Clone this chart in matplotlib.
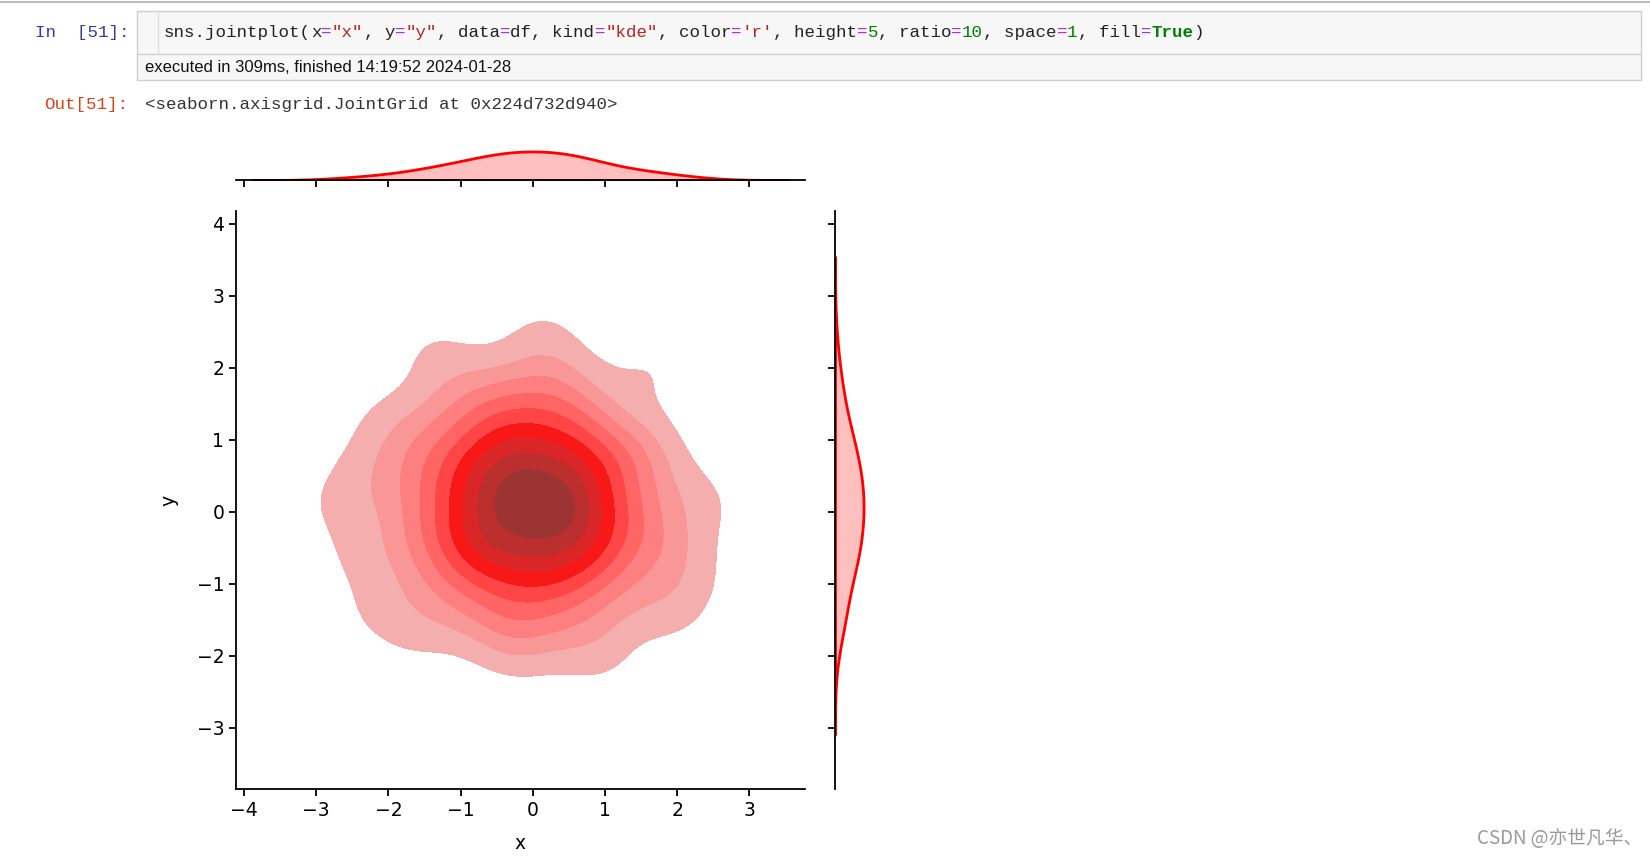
import numpy as np
import pandas as pd
import matplotlib
matplotlib.use("Agg")
import matplotlib.pyplot as plt
import seaborn as sns
from matplotlib.lines import Line2D
from matplotlib.patches import Rectangle

# sample points, estimated from the density plot (inner points first, outliers last)
xs = [-0.05, 0.3, -0.4, -0.1, -0.3, 0.3, -0.45, 0.4, -0.25, 0.05, 0.45, -0.3, 0.15, -0.15,
      0.7, 0.6, 0.35, -0.05, -0.45, -0.75, -0.85, -0.7, -0.45, -0.05, 0.4, 0.7,
      0.9, 0.65, 0.2, -0.3, -0.8, -0.95, -0.9, -0.6, -0.2, 0.25, 0.8,
      0.5, 0.45, 0.0, -0.55, -0.6, -0.2, 0.3, 0.55, -0.4, 0.15,
      1.1, 0.95, 0.8, 0.4, 0.0, -0.4, -0.75, -1.0, -1.15, -1.1, -0.95, -0.7, -0.3, 0.1, 0.45, 0.8, 1.0,
      1.3, 1.2, 0.8, 0.3, -0.2, -0.65, -1.1, -1.4, -1.45, -1.35, -1.05, -0.65, -0.15, 0.35, 0.8, 1.15, 1.35,
      1.7, 1.6, 1.45, 0.8, 0.45, 0.15, -0.35, -0.8, -1.2, -1.5, -1.75, -1.85, -1.75, -1.6, -1.35, -0.95,
      -0.5, -0.05, 0.45, 0.9, 1.25, 1.55, 1.7,
      0.15, -1.35, -2.0, -2.3, -2.4, -1.6, -0.25, 0.9, 1.85, 2.05, 2.35,
      1.62, -2.7, 2.1, -2.15]
ys = [0.1, 0.15, 0.25, 0.4, -0.1, -0.1, -0.05, 0.35, 0.45, -0.15, 0.0, 0.05, 0.2, 0.3,
      0.2, 0.55, 0.8, 0.85, 0.75, 0.5, 0.1, -0.35, -0.55, -0.65, -0.55, -0.25,
      -0.1, -0.6, -0.8, -0.8, -0.55, -0.15, 0.45, 0.85, 0.95, 0.9, 0.6,
      0.35, -0.3, -0.5, -0.2, 0.35, 0.7, 0.65, -0.05, -0.4, -0.45,
      0.05, 0.5, 0.8, 1.15, 1.25, 1.1, 1.0, 0.6, 0.3, -0.15, -0.5, -0.8, -1.0, -1.05, -0.85, -0.65, -0.3,
      0.35, 0.85, 1.3, 1.5, 1.45, 1.4, 1.0, 0.6, 0.05, -0.45, -0.85, -1.2, -1.3, -1.25, -1.0, -0.6, -0.2,
      0.25, 0.75, 0.95, 1.3, 1.8, 1.9, 1.75, 1.7, 1.5, 1.1, 0.7, 0.2, -0.3, -0.75, -1.1, -1.4,
      -1.6, -1.7, -1.6, -1.45, -1.1, -0.7, -0.25,
      2.45, 2.2, 1.2, 0.55, -0.6, -1.65, -1.85, -2.0, -1.4, -0.5, 0.15,
      1.95, 0.1, -1.0, -1.35]
df = pd.DataFrame({"x": xs, "y": ys})

x_ticks = [-4, -3, -2, -1, 0, 1, 2, 3]
y_ticks = [-3, -2, -1, 0, 1, 2, 3, 4]

W, H = 1650, 857
fig = plt.figure(figsize=(W / 100, H / 100), dpi=100)


def box(l, t, r, b):
    return [l / W, 1 - b / H, (r - l) / W, (b - t) / H]


def px(x, y):
    return x / W, 1 - y / H


# notebook chrome
fig.add_artist(Line2D([0, 1], [1 - 1.5 / H] * 2, color="#bdbdbd", lw=1.5))
fig.add_artist(Rectangle(px(137, 80), 1504 / W, 69.5 / H, facecolor="#f7f7f7",
                         edgecolor="#cfcfcf", lw=1))
fig.add_artist(Line2D([137 / W, 1641 / W], [1 - 53.7 / H] * 2, color="#cfcfcf", lw=1))
fig.add_artist(Line2D([158 / W] * 2, [1 - 11 / H, 1 - 53.7 / H], color="#e0e0e0", lw=1))

mono = "Liberation Mono"
fs_code = 12.6
cw = 0.6 * fs_code * 100 / 72

fig.text(*px(35, 32.5), "In  [51]:", family=mono, size=fs_code, color="#303f9f", va="center")
fig.text(*px(44, 104), "Out[51]:", family=mono, size=fs_code, color="#d84315", va="center")

code = [("sns.jointplot(", "#222222"), ("x", "#222222"), ("=", "#aa22ff"), ('"x"', "#ba2121"),
        (", y", "#222222"), ("=", "#aa22ff"), ('"y"', "#ba2121"), (", data", "#222222"),
        ("=", "#aa22ff"), ("df, kind", "#222222"), ("=", "#aa22ff"), ('"kde"', "#ba2121"),
        (", color", "#222222"), ("=", "#aa22ff"), ("'r'", "#ba2121"), (", height", "#222222"),
        ("=", "#aa22ff"), ("5", "#008000"), (", ratio", "#222222"), ("=", "#aa22ff"),
        ("10", "#008000"), (", space", "#222222"), ("=", "#aa22ff"), ("1", "#008000"),
        (", fill", "#222222"), ("=", "#aa22ff"), ("True", "#008000"), (")", "#222222")]
pos = 0
for seg, col in code:
    fig.text(*px(164 + pos * cw, 32.5), seg, family=mono, size=fs_code, color=col, va="center",
             weight="bold" if seg == "True" else "normal")
    pos += len(seg)

fig.text(*px(145, 67.5), "executed in 309ms, finished 14:19:52 2024-01-28",
         family="Liberation Sans", size=12, color="#111111", va="center")
fig.text(*px(145, 104), "<seaborn.axisgrid.JointGrid at 0x224d732d940>",
         family=mono, size=fs_code, color="#333333", va="center")

fig.text(*px(1477, 838), "CSDN @亦世凡华、", family=["Noto Sans CJK SC", "DejaVu Sans"],
         size=13.5, color="#999999", va="center")

# joint grid
ax_joint = fig.add_axes(box(236, 211, 805, 789))
ax_mx = fig.add_axes(box(236, 150, 805, 180), sharex=ax_joint)
ax_my = fig.add_axes(box(835, 211, 865, 789), sharey=ax_joint)

sns.kdeplot(data=df, x="x", y="y", fill=True, color="r", bw_adjust=0.9, ax=ax_joint)
sns.kdeplot(data=df, x="x", fill=True, color="r", linewidth=2, ax=ax_mx)
sns.kdeplot(data=df, y="y", fill=True, color="r", linewidth=2, ax=ax_my)

ax_joint.set_xlim(-4.11, 3.77)
ax_joint.set_ylim(-3.85, 4.18)
ax_joint.set_xticks(x_ticks)
ax_joint.set_yticks(y_ticks)
ax_joint.set_xlabel("x", size=13.5, labelpad=10)
ax_joint.set_ylabel("y", size=13.5, labelpad=13)

for ax in [ax_joint, ax_mx, ax_my]:
    ax.set_facecolor("none")
    ax.spines["top"].set_visible(False)
    ax.spines["right"].set_visible(False)
    for s in ax.spines.values():
        s.set_linewidth(1.3)
    ax.tick_params(labelsize=13.5, length=5, width=1.3)

ax_mx.spines["left"].set_visible(False)
ax_mx.tick_params(left=False, labelleft=False, labelbottom=False)
ax_mx.set_xlabel("")
ax_mx.set_ylabel("")
ax_my.spines["bottom"].set_visible(False)
ax_my.tick_params(bottom=False, labelbottom=False, labelleft=False)
ax_my.set_xlabel("")
ax_my.set_ylabel("")

fig.savefig("out.png", dpi=100)
